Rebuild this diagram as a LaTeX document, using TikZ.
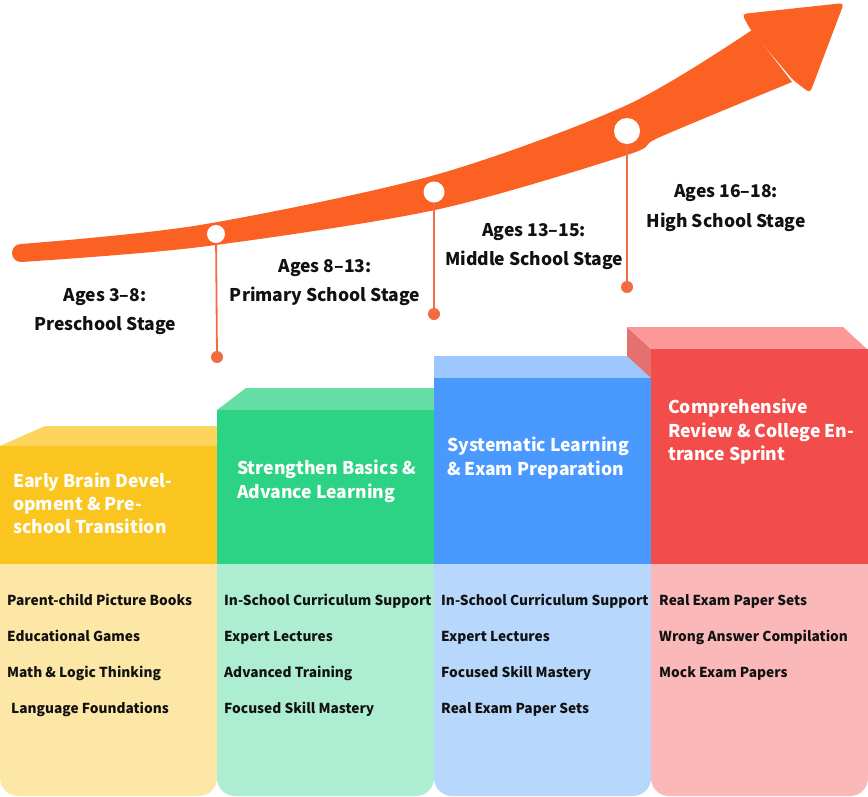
\documentclass[tikz,border=0pt]{standalone}
\usepackage{fontspec}
\setmainfont{Noto Sans CJK SC}
\definecolor{arrowc}{HTML}{FC6124}
\definecolor{linec}{HTML}{F26B43}
\definecolor{yfront}{HTML}{FBC520}
\definecolor{ytop}{HTML}{FDD45C}
\definecolor{ylight}{HTML}{FDE7A6}
\definecolor{gfront}{HTML}{2DD384}
\definecolor{gtop}{HTML}{65DEA5}
\definecolor{glight}{HTML}{ADEED2}
\definecolor{bfront}{HTML}{4A99FE}
\definecolor{btop}{HTML}{9CC8FE}
\definecolor{blight}{HTML}{B8D7FD}
\definecolor{rfront}{HTML}{F34D4B}
\definecolor{rtop}{HTML}{FB9898}
\definecolor{rside}{HTML}{E57070}
\definecolor{rlight}{HTML}{FAB8B8}
\definecolor{ink}{HTML}{111111}
\begin{document}
\begin{tikzpicture}[x=1pt,y=-1pt,
  title/.style={anchor=base west, inner sep=0, text=white, font=\bfseries\fontsize{17.6}{23}\selectfont},
  item/.style={anchor=base west, inner sep=0, text=ink, font=\bfseries\fontsize{13.7}{17}\selectfont},
  stage/.style={anchor=base, inner sep=0, text=ink, font=\bfseries\fontsize{17.5}{21}\selectfont},
  wdot/.style={circle, fill=white, inner sep=0},
  odot/.style={circle, fill=linec, minimum size=12pt, inner sep=0},
  conn/.style={draw=linec, line width=1.8pt}]
\useasboundingbox (0,0) rectangle (868,796);
\fill[white] (0,0) rectangle (868,796);

% ---- columns: light bottoms ----
\fill[ylight, rounded corners=18pt] (0,530) rectangle (217,796);
\fill[glight, rounded corners=18pt] (217,530) rectangle (434,796);
\fill[blight, rounded corners=18pt] (434,530) rectangle (651,796);
\fill[rlight, rounded corners=18pt] (651,530) rectangle (868,796);

% yellow
\fill[ytop] (0,446) -- (45,426) -- (217,426) -- (217,446) -- cycle;
\fill[yfront] (0,446) rectangle (217,564);
% green
\fill[gtop] (217,410) -- (246,388) -- (434,388) -- (434,410) -- cycle;
\fill[gfront] (217,410) rectangle (434,564);
% blue
\fill[btop] (434,356) -- (627,356) -- (651,378) -- (434,378) -- cycle;
\fill[bfront] (434,378) rectangle (651,564);
% red
\fill[rside] (627,327) -- (651,349) -- (651,378) -- (627,356) -- cycle;
\fill[rtop] (627,327) -- (843,327) -- (867,349) -- (651,349) -- cycle;
\fill[rfront] (651,349) rectangle (868,564);

% ---- titles ----
\node[title] (t1a) at (13,487) {Early Brain Devel-};
\node[title] (t1b) at (13,510) {opment \& Pre-};
\node[title] (t1c) at (13,533) {school Transition};
\node[title] (t2a) at (237,474) {Strengthen Basics \&};
\node[title] (t2b) at (237,498) {Advance Learning};
\node[title] (t3a) at (447,451) {Systematic Learning};
\node[title] (t3b) at (447,475) {\& Exam Preparation};
\node[title] (t4a) at (668,413) {Comprehensive};
\node[title] (t4b) at (668,437) {Review \& College En-};
\node[title] (t4c) at (668,460) {trance Sprint};

% ---- items ----
\node[item] (i1a) at (7,605) {Parent-child Picture Books};
\node[item] (i1b) at (7,641) {Educational Games};
\node[item] (i1c) at (7,677) {Math \& Logic Thinking};
\node[item] (i1d) at (11,713) {Language Foundations};
\node[item] (i2a) at (224,605) {In-School Curriculum Support};
\node[item] (i2b) at (224,641) {Expert Lectures};
\node[item] (i2c) at (224,677) {Advanced Training};
\node[item] (i2d) at (224,713) {Focused Skill Mastery};
\node[item] (i3a) at (441,605) {In-School Curriculum Support};
\node[item] (i3b) at (441,641) {Expert Lectures};
\node[item] (i3c) at (441,677) {Focused Skill Mastery};
\node[item] (i3d) at (441,713) {Real Exam Paper Sets};
\node[item] (i4a) at (659,605) {Real Exam Paper Sets};
\node[item] (i4b) at (659,641) {Wrong Answer Compilation};
\node[item] (i4c) at (659,677) {Mock Exam Papers};

% ---- arrow ----
\fill[arrowc] plot[smooth] coordinates {(21,244) (200,225) (435,175) (627,105) (752,30)}
  -- (792,82)
  -- plot[smooth] coordinates {(792,82) (660,137) (627,155) (435,210) (200,247) (21,262)} -- cycle;
\fill[arrowc] (21,253) circle[radius=9];
\fill[arrowc, rounded corners=4pt] (750,29) -- (742,14) -- (844,3) -- (810,93) -- (793,80) -- cycle;

% ---- stage labels ----
\node[stage] (s1a) at (105,301) {Ages 3–8:};
\node[stage] (s1b) at (105,330) {Preschool Stage};
\node[stage] (s2a) at (325,272) {Ages 8–13:};
\node[stage] (s2b) at (325,301) {Primary School Stage};
\node[stage] (s3a) at (534,236) {Ages 13–15:};
\node[stage] (s3b) at (534,265) {Middle School Stage};
\node[stage] (s4a) at (726,197) {Ages 16–18:};
\node[stage] (s4b) at (726,227) {High School Stage};

% ---- markers ----
\node[odot] (o1) at (217,357) {};
\node[odot] (o2) at (434,314) {};
\node[odot] (o3) at (627,287) {};
\node[wdot, minimum size=18pt] (w1) at (216,234) {};
\node[wdot, minimum size=21pt] (w2) at (434,192) {};
\node[wdot, minimum size=26pt] (w3) at (627,131) {};
\draw[conn] (w1) -- (o1);
\draw[conn] (w2) -- (o2);
\draw[conn] (w3) -- (o3);
\end{tikzpicture}
\end{document}
